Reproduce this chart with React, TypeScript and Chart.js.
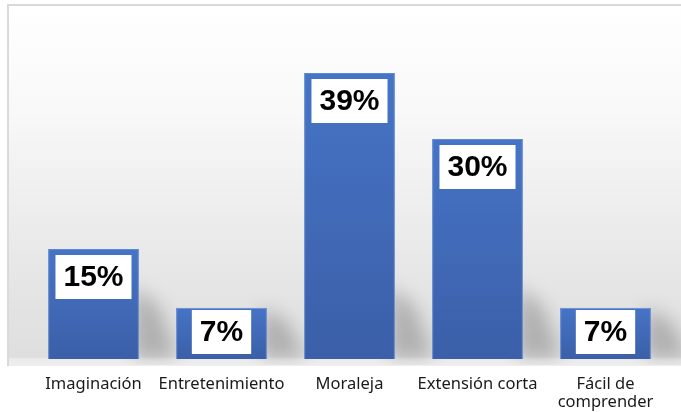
import React, { useEffect, useRef } from 'react';
import { Chart, registerables } from 'chart.js';

Chart.register(...registerables);

const categories: (string | string[])[] = [
  'Imaginación',
  'Entretenimiento',
  'Moraleja',
  'Extensión corta',
  ['Fácil de', 'comprender'],
];
const values: number[] = [15, 7, 39, 30, 7];
const valueLabels: string[] = ['15%', '7%', '39%', '30%', '7%'];

const backgroundPlugin = {
  id: 'frameBackground',
  beforeDraw(chart: any) {
    const ctx = chart.ctx;
    const x0 = 8, y0 = 5, x1 = chart.width + 4, y1 = 366;
    ctx.save();
    const g = ctx.createLinearGradient(0, y0, 0, y1);
    g.addColorStop(0, '#ffffff');
    g.addColorStop(0.3, '#f8f8f8');
    g.addColorStop(0.7, '#e8e8e8');
    g.addColorStop(0.975, '#dedede');
    g.addColorStop(0.981, '#ebebeb');
    g.addColorStop(1, '#eeeeee');
    ctx.fillStyle = g;
    ctx.fillRect(x0, y0, x1 - x0, y1 - y0);
    ctx.strokeStyle = '#d9d9d9';
    ctx.lineWidth = 2;
    ctx.beginPath();
    ctx.moveTo(x0, y1);
    ctx.lineTo(x0, y0);
    ctx.lineTo(x1, y0);
    ctx.stroke();
    ctx.restore();
  },
};

const shadowPlugin = {
  id: 'barShadows',
  beforeDatasetsDraw(chart: any) {
    const ctx = chart.ctx;
    const meta = chart.getDatasetMeta(0);
    ctx.save();
    ctx.beginPath();
    ctx.rect(9, 6, chart.width, 359);
    ctx.clip();
    ctx.filter = 'blur(9px)';
    ctx.fillStyle = 'rgba(0,0,0,0.21)';
    meta.data.forEach((bar: any) => {
      const { x, y, base, width } = bar.getProps(['x', 'y', 'base', 'width'], true);
      const r = x + width / 2;
      const h = base - y;
      const sh = Math.min(h, 72);
      ctx.beginPath();
      ctx.moveTo(r - 6, base - 2);
      ctx.lineTo(r - 6, base - sh);
      ctx.lineTo(r + 20, base - sh * 0.75);
      ctx.lineTo(r + 38, base - 2);
      ctx.closePath();
      ctx.fill();
    });
    ctx.restore();
  },
};

const labelPlugin = {
  id: 'boxLabels',
  afterDatasetsDraw(chart: any) {
    const ctx = chart.ctx;
    const meta = chart.getDatasetMeta(0);
    ctx.save();
    ctx.font = 'bold 30px "Liberation Sans", Arial, sans-serif';
    ctx.textAlign = 'center';
    ctx.textBaseline = 'middle';
    meta.data.forEach((bar: any, i: number) => {
      const { x, y, base } = bar.getProps(['x', 'y', 'base'], true);
      const text = valueLabels[i];
      const tw = ctx.measureText(text).width;
      const bw = tw + 16;
      const bh = 44;
      const top = Math.min(y + 6, base - 5 - bh);
      ctx.fillStyle = '#ffffff';
      ctx.fillRect(x - bw / 2, top, bw, bh);
      ctx.fillStyle = '#000000';
      ctx.fillText(text, x, top + bh / 2 + 1);
    });
    ctx.restore();
  },
};

export default function App() {
  const canvasRef = useRef<HTMLCanvasElement | null>(null);

  useEffect(() => {
    document.body.style.margin = '0';
    const canvas = canvasRef.current;
    if (!canvas) return;
    const chart = new Chart(canvas, {
      type: 'bar',
      data: {
        labels: categories as any,
        datasets: [
          {
            data: values,
            backgroundColor: (context: any) => {
              const c = context.chart;
              const yScale = c.scales?.y;
              if (!c.chartArea || !yScale || context.type !== 'data') return '#4472c4';
              const top = yScale.getPixelForValue(context.raw);
              const bottom = yScale.getPixelForValue(0);
              if (!isFinite(top) || !isFinite(bottom) || top === bottom) return '#4472c4';
              const g = c.ctx.createLinearGradient(0, top, 0, bottom);
              g.addColorStop(0, '#4674c6');
              g.addColorStop(1, '#3b5fa8');
              return g;
            },
            borderColor: '#6189d2',
            borderWidth: 1,
            barPercentage: 0.71,
            categoryPercentage: 1,
          },
        ],
      },
      options: {
        responsive: true,
        maintainAspectRatio: false,
        animation: false,
        layout: { padding: { top: 7, left: 29.5, right: 11.5, bottom: 0 } },
        plugins: {
          legend: { display: false },
          tooltip: { enabled: false },
        },
        scales: {
          x: {
            grid: { display: false, drawTicks: false },
            border: { display: false },
            ticks: {
              color: '#1a1a1a',
              padding: 16,
              maxRotation: 0,
              autoSkip: false,
              font: { family: '"Noto Sans", sans-serif', size: 16.5, lineHeight: 1.1 },
            },
            afterFit: (scale: any) => {
              scale.height = 53;
            },
          },
          y: {
            display: false,
            min: 0,
            max: 48,
          },
        },
      },
      plugins: [backgroundPlugin, shadowPlugin, labelPlugin],
    });
    return () => chart.destroy();
  }, []);

  return (
    <div style={{ width: '681px', height: '412px', position: 'relative' }}>
      <canvas ref={canvasRef} />
    </div>
  );
}
